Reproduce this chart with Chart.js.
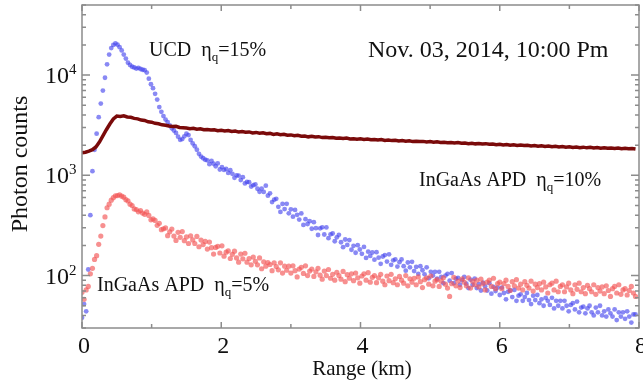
<!DOCTYPE html>
<html>
<head>
<meta charset="utf-8">
<title>Photon counts vs range</title>
<script src="https://cdn.jsdelivr.net/npm/chart.js"></script>
<style>
  body { margin: 0; background: #ffffff; }
  canvas { display: block; }
</style>
</head>
<body>
<canvas id="lidarChart" width="643" height="381"></canvas>
<script>
// range bins (km)
const dotStepKm = 0.03;
const lineStepKm = 0.05;

// UCD, eta_q = 15% (blue dots), one value per 0.03 km bin
const ucdCounts = [
  38, 52, 44, 115, 400, 1100, 1800, 2600, 3800, 5200,
  7000, 9400, 12800, 16000, 18600, 20000, 20700, 20100, 19000, 17600,
  16000, 14600, 13300, 12600, 12100, 11900, 11600, 11800, 11500, 11300,
  11200, 10600, 9200, 8100, 7400, 6500, 5700, 4800, 4300, 3900,
  3600, 3400, 3150, 2950, 2800, 2650, 2430, 2260, 2300, 2450,
  2600, 2520, 2250, 2080, 1950, 1800, 1640, 1540, 1480, 1430,
  1411, 1292, 1390, 1307, 1232, 1314, 1143, 1210, 1133, 1159,
  1056, 1124, 1035, 944, 1000, 993, 897, 958, 831, 859,
  855, 774, 798, 812, 735, 686, 738, 683, 788, 627,
  662, 541, 571, 583, 485, 431, 518, 461, 520, 418,
  458, 387, 452, 404, 362, 417, 320, 365, 327, 349,
  293, 341, 297, 254, 296, 303, 257, 302, 236, 258,
  263, 220, 241, 255, 215, 192, 229, 202, 226, 181,
  198, 169, 201, 182, 165, 193, 150, 173, 157, 170,
  144, 171, 151, 131, 155, 160, 138, 163, 128, 142,
  145, 123, 136, 145, 124, 112, 135, 121, 137, 111,
  122, 104, 124, 113, 103, 121, 94, 109, 100, 109,
  93, 109, 97, 84, 100, 104, 89, 106, 84, 93,
  95, 81, 90, 97, 83, 75, 91, 81, 93, 75,
  82, 71, 85, 78, 71, 84, 66, 77, 70, 76,
  64, 76, 67, 58, 69, 71, 61, 72, 56, 63,
  65, 56, 61, 67, 57, 52, 63, 57, 64, 53,
  58, 50, 60, 56, 51, 60, 47, 56, 50, 56,
  47, 56, 50, 44, 51, 53, 46, 55, 43, 48,
  49, 42, 47, 50, 43, 40, 48, 43, 50, 40,
  44, 39, 46, 42, 39, 46, 36, 43, 39, 43,
  37, 44, 39, 34, 41, 41
];

// InGaAs APD, eta_q = 5% (red dots), one value per 0.03 km bin
const apd5Counts = [
  68, 58, 72, 78, 104, 118, 145, 158, 205, 248,
  315, 385, 475, 515, 565, 598, 625, 628, 640, 620,
  605, 572, 556, 515, 500, 462, 455, 432, 445, 420,
  408, 431, 398, 360, 367, 355, 317, 332, 287, 293,
  299, 250, 273, 291, 248, 224, 270, 241, 275, 223,
  243, 209, 249, 227, 209, 246, 194, 226, 204, 219,
  184, 216, 190, 164, 191, 196, 168, 198, 156, 171,
  176, 148, 163, 175, 150, 136, 164, 147, 167, 136,
  148, 128, 153, 139, 128, 150, 117, 137, 124, 135,
  129, 112, 134, 123, 114, 134, 106, 124, 113, 124,
  106, 125, 112, 97, 116, 121, 105, 125, 100, 111,
  116, 98, 109, 118, 101, 92, 111, 100, 115, 94,
  103, 90, 108, 100, 92, 110, 87, 102, 94, 104,
  89, 106, 95, 84, 99, 104, 90, 107, 86, 96,
  100, 85, 95, 103, 88, 81, 99, 89, 103, 85,
  93, 81, 98, 90, 84, 100, 79, 93, 86, 94,
  81, 97, 87, 76, 91, 95, 82, 99, 79, 88,
  91, 78, 88, 95, 82, 75, 62, 83, 96, 79,
  88, 76, 93, 86, 79, 95, 75, 88, 81, 90,
  77, 92, 83, 72, 86, 90, 78, 94, 74, 83,
  86, 74, 83, 90, 78, 71, 87, 79, 91, 75,
  82, 72, 87, 80, 75, 88, 70, 82, 76, 83,
  72, 86, 77, 67, 81, 84, 72, 88, 69, 78,
  81, 69, 77, 84, 72, 66, 81, 73, 84, 69,
  76, 66, 80, 74, 69, 81, 65, 76, 70, 77,
  66, 79, 71, 62, 74, 78, 67, 81, 65, 72,
  74, 64, 71, 78, 67, 62
];

// InGaAs APD, eta_q = 10% (dark red line), one value per 0.05 km bin
const apd10Counts = [
  1680, 1700, 1740, 1800, 1920, 2150, 2480, 2850, 3250, 3650,
  3900, 3860, 3920, 3820, 3790, 3700, 3660, 3560, 3530, 3420,
  3390, 3300, 3270, 3190, 3160, 3110, 3070, 3080, 3000, 2990,
  2960, 2920, 2950, 2890, 2910, 2850, 2870, 2830, 2840, 2790,
  2810, 2770, 2800, 2740, 2760, 2700, 2730, 2690, 2710, 2650,
  2680, 2630, 2660, 2600, 2620, 2560, 2590, 2540, 2570, 2510,
  2530, 2480, 2510, 2460, 2470, 2420, 2450, 2410, 2430, 2380,
  2400, 2370, 2380, 2340, 2360, 2330, 2350, 2310, 2320, 2290,
  2310, 2280, 2300, 2260, 2280, 2250, 2270, 2230, 2250, 2220,
  2240, 2200, 2220, 2190, 2210, 2170, 2190, 2170, 2180, 2150,
  2170, 2140, 2160, 2130, 2140, 2110, 2130, 2100, 2120, 2090,
  2100, 2070, 2090, 2060, 2080, 2050, 2070, 2040, 2050, 2020,
  2040, 2010, 2030, 2000, 2020, 1990, 2010, 1980, 1990, 1960,
  1980, 1950, 1970, 1940, 1960, 1930, 1950, 1920, 1940, 1910,
  1930, 1900, 1920, 1890, 1910, 1880, 1900, 1870, 1890, 1860,
  1880, 1860, 1870, 1850, 1870, 1840, 1860, 1840, 1850, 1830
];

const xTickValues = [0, 2, 4, 6, 8];
const yTickExponents = [2, 3, 4];

function toPoints(values, step) {
  return values.map((v, i) => ({ x: +(i * step).toFixed(3), y: v }));
}

const serif = '"Liberation Serif", "Times New Roman", serif';

// draws text pieces one after another (for subscripts / superscripts)
function drawRich(ctx, x, y, parts) {
  let cx = x;
  parts.forEach(p => {
    ctx.font = p.size + 'px ' + serif;
    ctx.fillText(p.t, cx, y + (p.dy || 0));
    cx += ctx.measureText(p.t).width;
  });
  return cx;
}

const framePlugin = {
  id: 'frame',
  afterDraw(chart) {
    const ctx = chart.ctx;
    const a = chart.chartArea;
    const xs = chart.scales.x, ys = chart.scales.y;
    ctx.save();
    ctx.strokeStyle = '#8c8c8c';
    ctx.lineWidth = 1.5;
    ctx.strokeRect(a.left, a.top, a.right - a.left, a.bottom - a.top);

    ctx.beginPath();
    for (let k = 0; k <= 8; k++) {
      const px = xs.getPixelForValue(k);
      const len = k % 2 === 0 ? 6 : 4;
      ctx.moveTo(px, a.bottom); ctx.lineTo(px, a.bottom - len);
      ctx.moveTo(px, a.top); ctx.lineTo(px, a.top + len);
    }
    [10, 100, 1000, 10000].forEach(d => {
      for (let m = 1; m <= 9; m++) {
        const v = m * d;
        if (v < ys.min || v > ys.max) continue;
        const py = ys.getPixelForValue(v);
        const len = m === 1 ? 8 : 4;
        ctx.moveTo(a.left, py); ctx.lineTo(a.left + len, py);
        ctx.moveTo(a.right, py); ctx.lineTo(a.right - len, py);
      }
    });
    ctx.stroke();

    ctx.fillStyle = '#111111';
    // x tick labels
    ctx.textAlign = 'center';
    ctx.textBaseline = 'alphabetic';
    ctx.font = '24px ' + serif;
    xTickValues.forEach(v => {
      ctx.fillText(String(v), xs.getPixelForValue(v) + 2, 353);
    });
    // y tick labels 10^n
    ctx.textAlign = 'left';
    yTickExponents.forEach(e => {
      const py = ys.getPixelForValue(Math.pow(10, e));
      ctx.font = '24px ' + serif;
      const w = ctx.measureText('10').width;
      ctx.fillText('10', 69 - w, py + 8);
      ctx.font = '15px ' + serif;
      ctx.fillText(String(e), 69, py - 1);
    });
    // axis titles
    ctx.textAlign = 'center';
    ctx.font = '21px ' + serif;
    ctx.fillText('Range (km)', 362, 375);
    ctx.save();
    ctx.translate(27, 164);
    ctx.rotate(-Math.PI / 2);
    ctx.font = '24px ' + serif;
    ctx.fillText('Photon counts', 0, 0);
    ctx.restore();

    // annotations
    ctx.textAlign = 'left';
    drawRich(ctx, 149, 56, [
      { t: 'UCD  \u03B7', size: 20 },
      { t: 'q', size: 13, dy: 5 },
      { t: '=15%', size: 20 }
    ]);
    drawRich(ctx, 368, 57, [{ t: 'Nov. 03, 2014, 10:00 Pm', size: 24 }]);
    drawRich(ctx, 419, 186, [
      { t: 'InGaAs APD  \u03B7', size: 20 },
      { t: 'q', size: 13, dy: 5 },
      { t: '=10%', size: 20 }
    ]);
    drawRich(ctx, 97, 291, [
      { t: 'InGaAs APD  \u03B7', size: 20 },
      { t: 'q', size: 13, dy: 5 },
      { t: '=5%', size: 20 }
    ]);
    ctx.restore();
  }
};

new Chart(document.getElementById('lidarChart'), {
  type: 'scatter',
  data: {
    datasets: [
      {
        label: 'InGaAs APD 10%',
        data: toPoints(apd10Counts, lineStepKm),
        showLine: true,
        borderColor: '#7a0a0a',
        borderWidth: 3.5,
        pointRadius: 0,
        tension: 0
      },
      {
        label: 'InGaAs APD 5%',
        data: toPoints(apd5Counts, dotStepKm),
        pointRadius: 2.6,
        pointBorderWidth: 0,
        backgroundColor: 'rgba(242, 85, 85, 0.65)'
      },
      {
        label: 'UCD 15%',
        data: toPoints(ucdCounts, dotStepKm),
        pointRadius: 2.4,
        pointBorderWidth: 0,
        backgroundColor: 'rgba(65, 65, 238, 0.62)'
      }
    ]
  },
  options: {
    responsive: false,
    animation: false,
    layout: { padding: { left: 82, right: 2, top: 5, bottom: 53 } },
    plugins: { legend: { display: false }, tooltip: { enabled: false } },
    scales: {
      x: { type: 'linear', min: 0, max: 8, display: false },
      y: { type: 'logarithmic', min: 30, max: 50000, display: false }
    }
  },
  plugins: [framePlugin]
});
</script>
</body>
</html>
